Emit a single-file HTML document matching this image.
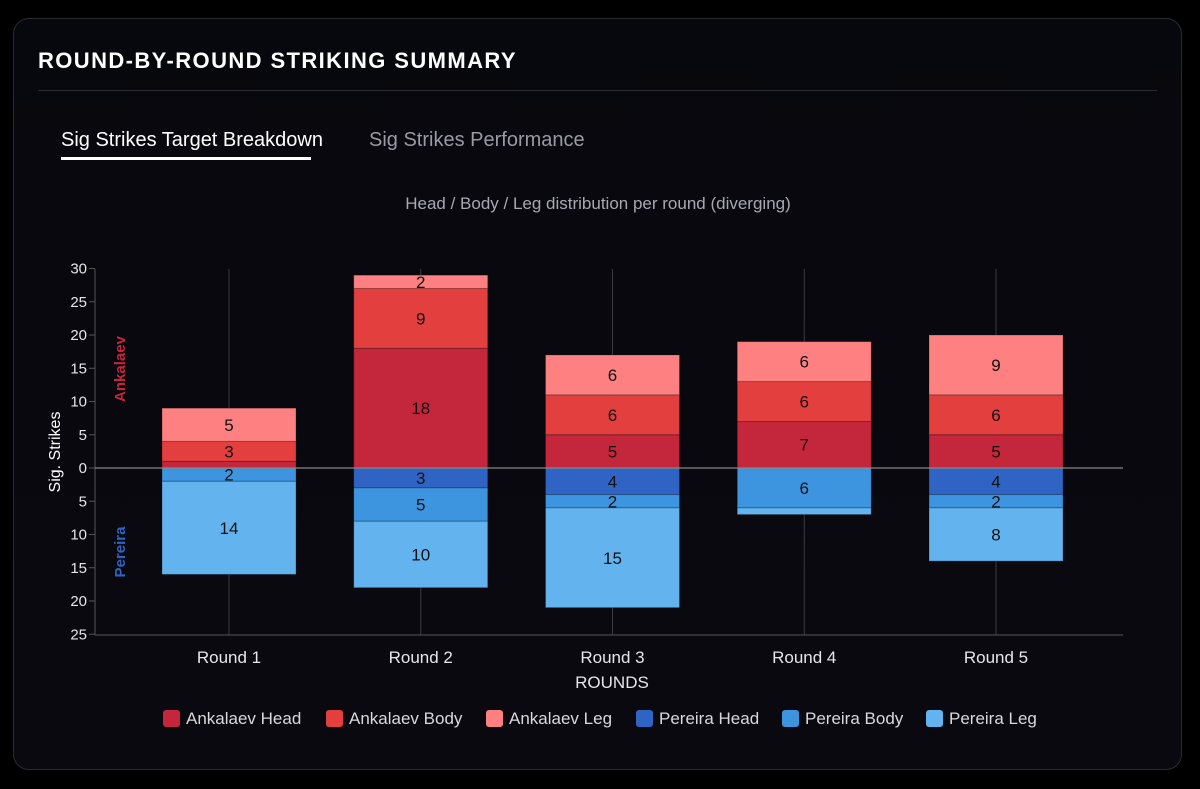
<!DOCTYPE html>
<html><head><meta charset="utf-8"><style>
body{margin:0;width:1200px;height:789px;background:#000;font-family:"Liberation Sans",sans-serif;overflow:hidden}
.card{position:absolute;left:13px;top:18px;width:1169px;height:752px;border:1px solid #2a2a33;border-radius:16px;background:linear-gradient(#07080d,#0b0910);box-sizing:border-box}
.title{position:absolute;left:24px;top:29px;color:#fff;font-weight:bold;font-size:22px;letter-spacing:1.4px}
.div{position:absolute;left:24px;right:24px;top:71px;height:1px;background:#2a2a33}
.tab{position:absolute;top:110px;font-size:20px}
</style></head><body>
<div class="card">
<div class="title">ROUND-BY-ROUND STRIKING SUMMARY</div>
<div class="div"></div>
<div class="tab" style="left:47px;color:#fff">Sig Strikes Target Breakdown</div>
<div style="position:absolute;left:47px;top:138px;width:250px;height:3px;background:#fff"></div>
<div class="tab" style="left:355px;color:#9a9aa5">Sig Strikes Performance</div>
</div>
<svg id="c" width="1200" height="789" style="position:absolute;left:0;top:0"></svg>
<script>
const categories=["Round 1","Round 2","Round 3","Round 4","Round 5"];
const ankHead=[1,18,5,7,5];
const ankBody=[3,9,6,6,6];
const ankLeg=[5,2,6,6,9];
const perHead=[0,3,4,0,4];
const perBody=[2,5,2,6,2];
const perLeg=[14,10,15,1,8];
const posTicks=[0,5,10,15,20,25,30];
const negTicks=[5,10,15,20,25];
const seriesNames=["Ankalaev Head","Ankalaev Body","Ankalaev Leg","Pereira Head","Pereira Body","Pereira Leg"];
const colors=["#c4263b","#e43f3f","#ff8080","#3064c4","#3d95e0","#62b3ee"];
const svg=document.getElementById('c');const NS="http://www.w3.org/2000/svg";
function mk(t,a,txt){const e=document.createElementNS(NS,t);for(const k in a)e.setAttribute(k,a[k]);if(txt!==undefined)e.textContent=txt;svg.appendChild(e);return e;}
const y0=468,k=6.65;
const y=v=>y0-v*k;
const x=i=>229+i*191.75;
const X0=95,X1=1123,bw=134;
let t=mk('text',{x:598,y:209,fill:'#a8a8b3','font-size':17,'text-anchor':'middle'},'Head / Body / Leg distribution per round (diverging)');

categories.forEach((c,i)=>{const l=mk('line',{x1:x(i),x2:x(i),y1:269,y2:635,stroke:'#3a3a44'});
const tl=mk('text',{x:x(i),y:663,fill:'#e6e6ea','font-size':17,'text-anchor':'middle'},c);});
posTicks.forEach(v=>{const tl=mk('text',{x:87,y:y(v)+5,fill:'#e6e6ea','font-size':15,'text-anchor':'end'},v);
mk('line',{x1:89,x2:95,y1:y(v),y2:y(v),stroke:'#555'});});
negTicks.forEach(v=>{const tl=mk('text',{x:87,y:y(-v)+5,fill:'#e6e6ea','font-size':15,'text-anchor':'end'},v);
mk('line',{x1:89,x2:95,y1:y(-v),y2:y(-v),stroke:'#555'});});
const ax=mk('line',{x1:95,x2:95,y1:269,y2:635,stroke:'#555'});
const bx=mk('line',{x1:95,x2:X1,y1:635,y2:635,stroke:'#555'});
const groups=[[ankHead,ankBody,ankLeg],[perHead,perBody,perLeg]];
categories.forEach((c,i)=>{
 groups.forEach((g,gi)=>{let acc=0;g.forEach((arr,si)=>{const v=arr[i];if(!v)return;const sgn=gi?-1:1;
  const a=y(sgn*acc),b=y(sgn*(acc+v));acc+=v;
  const r=mk('rect',{x:x(i)-bw/2,y:Math.min(a,b),width:bw,height:Math.abs(b-a),fill:colors[gi*3+si],stroke:'rgba(0,0,0,0.25)','stroke-width':1});
  
  if(v>=2){const l=mk('text',{x:x(i),y:(a+b)/2+6,fill:'#111','font-size':17,'text-anchor':'middle'},v);}
 });});
});
const z=mk('line',{x1:X0,x2:X1,y1:y0,y2:y0,stroke:'#888','stroke-width':1.2});
let e=mk('text',{x:0,y:0,fill:'#fff','font-size':16,'text-anchor':'middle',transform:'translate(60,452) rotate(-90)'},'Sig. Strikes');
e=mk('text',{x:0,y:0,fill:'#c4263b','font-size':15,'font-weight':'bold','text-anchor':'middle',transform:'translate(125,369) rotate(-90)'},'Ankalaev');
e=mk('text',{x:0,y:0,fill:'#3064c4','font-size':15,'font-weight':'bold','text-anchor':'middle',transform:'translate(125,552) rotate(-90)'},'Pereira');
e=mk('text',{x:612,y:688,fill:'#e6e6ea','font-size':17,'text-anchor':'middle'},'ROUNDS');
const lx=[163,326,486,636,782,926];
seriesNames.forEach((n,i)=>{const r=mk('rect',{x:lx[i],y:710,width:17,height:17,rx:3,fill:colors[i]});
 const l=mk('text',{x:lx[i]+23,y:724,fill:'#d8d8de','font-size':17},n);});
</script>
</body></html>
